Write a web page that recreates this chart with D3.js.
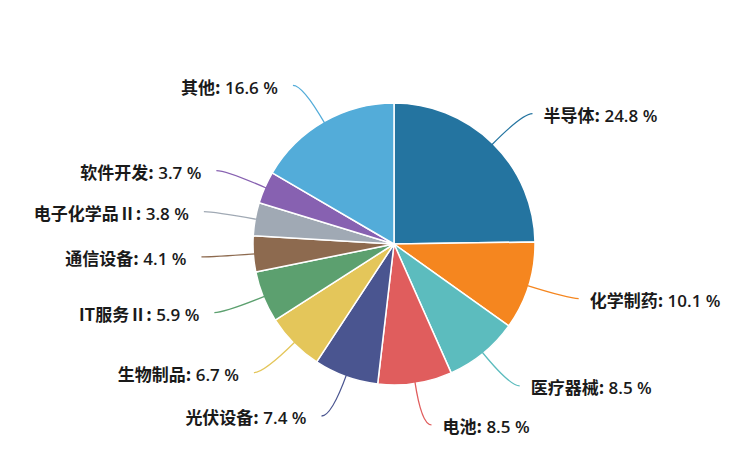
<!DOCTYPE html>
<html>
<head>
<meta charset="utf-8">
<script src="https://cdn.jsdelivr.net/npm/d3@7/dist/d3.min.js"></script>
<style>
html,body{margin:0;padding:0;background:#fff;}
svg{display:block;}
text{font-family:"Noto Sans CJK SC","Noto Sans",sans-serif;}
</style>
</head>
<body>
<svg id="chart" width="755" height="469"></svg>
<script>
const categories = ["半导体","化学制药","医疗器械","电池","光伏设备","生物制品","IT服务Ⅱ","通信设备","电子化学品Ⅱ","软件开发","其他"];
const values = [24.8,10.1,8.5,8.5,7.4,6.7,5.9,4.1,3.8,3.7,16.6];
const colors = ["#2474a0","#f5861f","#5cbcbe","#e05d5d","#4a5590","#e4c65a","#5ca06f","#8d6a4f","#a0a9b4","#8761b1","#53acd9"];

const W = 755, H = 469;
const cx = 394, cy = 244, r = 141;
const len1 = 42, len2 = 10, gapRight = 11, gapLeft = 15;

const svg = d3.select("#chart");
const g = svg.append("g").attr("transform", `translate(${cx},${cy})`);

const data = categories.map((c,i)=>({name:c, value:values[i], color:colors[i]}));
const pie = d3.pie().value(d=>d.value).sort(null);
const arcs = pie(data);
const arc = d3.arc().innerRadius(0).outerRadius(r);

g.selectAll("path.slice").data(arcs).join("path")
  .attr("class","slice")
  .attr("d", arc)
  .attr("fill", d=>d.data.color)
  .attr("stroke", "#fff")
  .attr("stroke-width", 1.5)
  .attr("stroke-linejoin","round");

function pt(a, rad){ return [Math.sin(a)*rad, -Math.cos(a)*rad]; }

arcs.forEach(d=>{
  const a = (d.startAngle + d.endAngle)/2;
  const p0 = pt(a, r - 2);
  const p1 = pt(a, r + len1);
  const right = Math.sin(a) >= 0;
  const p2 = [p1[0] + (right ? len2 : -len2), p1[1]];
  const path = d3.path();
  path.moveTo(p0[0], p0[1]);
  path.quadraticCurveTo(p1[0], p1[1], p2[0], p2[1]);
  g.append("path")
    .attr("d", path.toString())
    .attr("fill","none")
    .attr("stroke", d.data.color)
    .attr("stroke-width", 1.3);
  const t = g.append("text")
    .attr("x", p2[0] + (right ? gapRight : -gapLeft))
    .attr("y", p2[1] + 2)
    .attr("dy", "0.38em")
    .attr("text-anchor", right ? "start" : "end")
    .attr("font-size", 17)
    .attr("fill", "#1a1a1a");
  t.append("tspan").attr("font-weight","bold").text(d.data.name + ":");
  t.append("tspan").attr("font-family","'Open Sans',sans-serif").attr("font-weight","600").text(" " + d3.format(".1f")(d.data.value) + " %");
});
</script>
</body>
</html>
